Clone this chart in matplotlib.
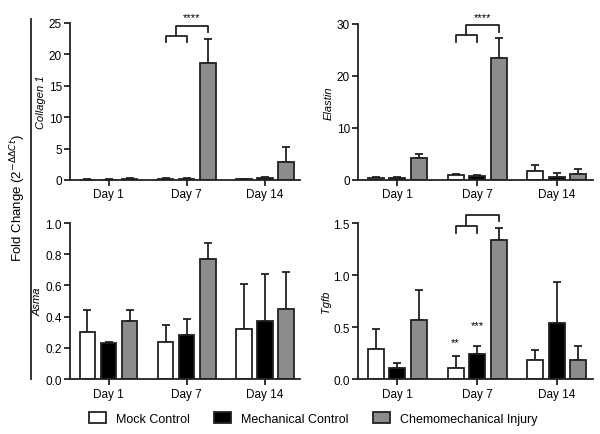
import numpy as np
import matplotlib.pyplot as plt

plt.rcParams['font.family'] = ['Liberation Sans', 'DejaVu Sans']

days = ['Day 1', 'Day 7', 'Day 14']
groups = ['Mock Control', 'Mechanical Control', 'Chemomechanical Injury']
colors = ['white', 'black', '#8c8c8c']

# mean and error (upper SD) for each gene, rows = group, cols = day
col1_mean = [[0.05, 0.2, 0.1], [0.05, 0.15, 0.25], [0.15, 18.6, 2.8]]
col1_err = [[0.05, 0.1, 0.05], [0.05, 0.1, 0.2], [0.1, 3.8, 2.4]]
elastin_mean = [[0.4, 1.0, 1.7], [0.3, 0.8, 0.6], [4.2, 23.4, 1.2]]
elastin_err = [[0.2, 0.1, 1.2], [0.2, 0.2, 0.8], [0.8, 3.9, 1.0]]
asma_mean = [[0.30, 0.24, 0.32], [0.23, 0.28, 0.37], [0.37, 0.77, 0.45]]
asma_err = [[0.14, 0.105, 0.29], [0.01, 0.105, 0.305], [0.075, 0.10, 0.235]]
tgfb_mean = [[0.29, 0.11, 0.18], [0.11, 0.24, 0.54], [0.57, 1.34, 0.18]]
tgfb_err = [[0.19, 0.11, 0.10], [0.05, 0.08, 0.39], [0.29, 0.11, 0.14]]

fig = plt.figure(figsize=(6, 4.35), dpi=100)
ax_col = fig.add_axes([0.117, 0.584, 0.383, 0.361])
ax_ela = fig.add_axes([0.597, 0.584, 0.391, 0.359])
ax_asm = fig.add_axes([0.117, 0.126, 0.383, 0.359])
ax_tgf = fig.add_axes([0.597, 0.126, 0.391, 0.359])

x = np.arange(len(days))
offsets = [-0.27, 0.0, 0.27]
width = 0.2


def draw(ax, means, errs, ylabel, ylim, yticks, fmt):
    for i in range(3):
        ax.bar(x + offsets[i], means[i], width, color=colors[i],
               edgecolor='#222222', linewidth=1.3, label=groups[i], zorder=2)
        ax.errorbar(x + offsets[i], means[i], yerr=[np.zeros(3), errs[i]],
                    fmt='none', ecolor='#222222', elinewidth=1.3,
                    capsize=3, capthick=1.3, zorder=1)
    ax.set_xlim(-0.49, 2.45)
    ax.set_ylim(*ylim)
    ax.set_yticks(yticks)
    ax.set_yticklabels([fmt.format(t) for t in yticks])
    ax.set_xticks(x)
    ax.set_xticklabels(days)
    ax.set_ylabel(ylabel, style='italic', fontsize=8, labelpad=2)
    for s in ['top', 'right']:
        ax.spines[s].set_visible(False)
    for s in ['left', 'bottom']:
        ax.spines[s].set_linewidth(1.3)
        ax.spines[s].set_color('#222222')
    ax.tick_params(labelsize=8.5, width=1.3, length=4, color='#222222', pad=2)


def bracket(ax, lo, hi, gap, text=None, text_y=None):
    # lower bracket mock-mech, upper bracket centre-chemo
    x1, x2, x3 = 1 + offsets[0], 1 + offsets[1], 1 + offsets[2]
    kw = dict(color='#222222', lw=1.3, clip_on=False)
    ax.plot([x1, x1, x2, x2], [lo - gap, lo, lo, lo - gap], **kw)
    xm = (x1 + x2) / 2
    ax.plot([xm, xm, x3, x3], [lo, hi, hi, hi - gap], **kw)
    if text:
        ax.text((xm + x3) / 2, text_y, text, ha='center', va='center',
                fontsize=8, clip_on=False)


draw(ax_col, col1_mean, col1_err, 'Collagen 1', (0, 25), [0, 5, 10, 15, 20, 25], '{:g}')
draw(ax_ela, elastin_mean, elastin_err, 'Elastin', (0, 30), [0, 10, 20, 30], '{:g}')
draw(ax_asm, asma_mean, asma_err, 'Asma', (0, 1.0), [0, 0.2, 0.4, 0.6, 0.8, 1.0], '{:.1f}')
draw(ax_tgf, tgfb_mean, tgfb_err, 'Tgfb', (0, 1.5), [0, 0.5, 1.0, 1.5], '{:.1f}')

bracket(ax_col, 22.9, 24.5, 0.9, '****', 26.0)
bracket(ax_ela, 27.9, 29.8, 1.4, '****', 31.3)
bracket(ax_tgf, 1.47, 1.58, 0.065)
ax_tgf.text(1 + offsets[0], 0.33, '**', ha='center', va='baseline', fontsize=8)
ax_tgf.text(1 + offsets[1], 0.49, '***', ha='center', va='baseline', fontsize=8)

# shared y label with a vertical rule
fig.text(0.03, 0.545, r'Fold Change (2$^{-\Delta\Delta Ct}$)', rotation=90,
         ha='center', va='center', fontsize=9.5)
fig.add_artist(plt.Line2D([0.052, 0.052], [0.126, 0.955], color='#222222', lw=1.3))

handles, labels = ax_asm.get_legend_handles_labels()
fig.legend(handles, labels, loc='lower center', bbox_to_anchor=(0.522, -0.005),
           ncol=3, frameon=False, fontsize=9, handlelength=1.4,
           handleheight=0.9, columnspacing=1.9)

plt.savefig('out.png', dpi=100)
